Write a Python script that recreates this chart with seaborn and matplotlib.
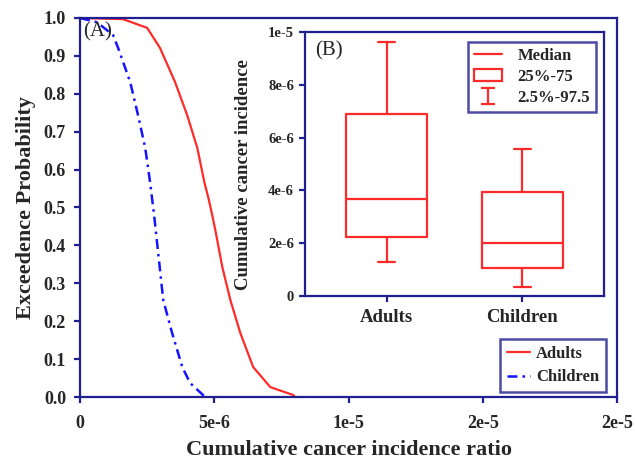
import numpy as np
import pandas as pd
import matplotlib
matplotlib.use("Agg")
import matplotlib.pyplot as plt
from matplotlib.lines import Line2D
from matplotlib.patches import Patch
import seaborn as sns

# ---------------- data ----------------
adult_x = [0, 1.6e-6, 2.5e-6, 2.98e-6, 3.54e-6, 3.99e-6, 4.37e-6, 4.63e-6, 4.79e-6,
           4.93e-6, 5.06e-6, 5.30e-6, 5.60e-6, 5.97e-6, 6.45e-6, 7.09e-6, 7.95e-6, 8.0e-6]
adult_p = [1.0, 0.997, 0.974, 0.921, 0.831, 0.744, 0.657, 0.567, 0.523,
           0.478, 0.433, 0.343, 0.256, 0.169, 0.079, 0.026, 0.005, 0.0]
child_x = [0, 0.63e-6, 1.23e-6, 1.42e-6, 1.87e-6, 2.16e-6, 2.43e-6, 2.61e-6, 2.69e-6,
           2.76e-6, 3.10e-6, 3.43e-6, 3.81e-6, 4.10e-6, 4.66e-6]
child_p = [1.0, 0.989, 0.955, 0.921, 0.831, 0.744, 0.657, 0.567, 0.520,
           0.480, 0.256, 0.169, 0.079, 0.037, 0.0]

groups = ["Adults", "Children"]
p2_5 = [1.29e-6, 0.33e-6]
p25 = [2.25e-6, 1.07e-6]
p50 = [3.66e-6, 2.0e-6]
p75 = [6.9e-6, 3.93e-6]
p97_5 = [9.62e-6, 5.58e-6]

main_xticks = [0, 5e-6, 1e-5, 1.5e-5, 2e-5]
main_xticklabels = ["0", "5e-6", "1e-5", "2e-5", "2e-5"]
main_yticks = [0.0, 0.1, 0.2, 0.3, 0.4, 0.5, 0.6, 0.7, 0.8, 0.9, 1.0]
inset_yticks = [0, 2e-6, 4e-6, 6e-6, 8e-6, 1e-5]
inset_yticklabels = ["0", "2e-6", "4e-6", "6e-6", "8e-6", "1e-5"]

# ---------------- style ----------------
sns.set_style("ticks")
plt.rcParams["font.family"] = ["Liberation Serif", "DejaVu Serif"]
NAVY = "#1f1f8f"
RED = "#ff2a2a"
BLUE = "#1414ff"

fig = plt.figure(figsize=(6.35, 4.61), dpi=100)
ax = fig.add_axes([80 / 635, 1 - 397 / 461, 537 / 635, 379 / 461])

df_a = pd.DataFrame({"x": adult_x, "p": adult_p})
df_c = pd.DataFrame({"x": child_x, "p": child_p})
sns.lineplot(data=df_a, x="x", y="p", ax=ax, color=RED, lw=1.6, estimator=None,
             label="Adults")
sns.lineplot(data=df_c, x="x", y="p", ax=ax, color=BLUE, lw=1.8, estimator=None,
             label="Children", linestyle=(0, (4, 2, 1, 2)))

ax.set_xlim(0, 2e-5)
ax.set_ylim(0, 1)
ax.set_xticks(main_xticks)
ax.set_xticklabels(main_xticklabels)
ax.set_yticks(main_yticks)
ax.set_yticklabels([f"{v:.1f}" for v in main_yticks])
for s in ax.spines.values():
    s.set_color(NAVY)
    s.set_linewidth(1.6)
ax.tick_params(direction="out", length=4, width=1.6, color=NAVY, labelsize=13)
for t in ax.get_xticklabels() + ax.get_yticklabels():
    t.set_fontweight("bold")
ax.tick_params(axis="x", pad=9)
ax.tick_params(axis="y", pad=6)
ax.set_xlabel("Cumulative cancer incidence ratio", fontsize=16, fontweight="bold",
              labelpad=6)
ax.set_ylabel("Exceedence Probability", fontsize=16, fontweight="bold", labelpad=6)
ax.text(0.006, 0.99, "(A)", transform=ax.transAxes, fontsize=15, va="top", ha="left")

leg = ax.legend(loc="lower right", bbox_to_anchor=(0.9795, 0.013), borderaxespad=0,
                frameon=True, fancybox=False, handlelength=1.4, handletextpad=0.35,
                labelspacing=0.45, borderpad=0.4,
                prop={"weight": "bold", "size": 12})
leg.get_frame().set_edgecolor(NAVY)
leg.get_frame().set_linewidth(1.8)

# ---------------- inset boxplot ----------------
axi = fig.add_axes([305 / 635, 1 - 296 / 461, 299 / 635, 264 / 461])
stats = []
for i, g in enumerate(groups):
    stats.append({"label": g, "whislo": p2_5[i], "q1": p25[i], "med": p50[i],
                  "q3": p75[i], "whishi": p97_5[i], "fliers": []})
lp = dict(color=RED, linewidth=1.6)
axi.bxp(stats, positions=[0, 1], widths=0.6, showfliers=False, capwidths=0.13,
        boxprops=lp, medianprops=lp, whiskerprops=lp, capprops=lp)
axi.set_xlim(-0.6, 1.6)
axi.set_ylim(0, 1e-5)
axi.set_xticks([0, 1])
axi.set_xticklabels(groups)
axi.set_yticks(inset_yticks)
axi.set_yticklabels(inset_yticklabels)
for s in axi.spines.values():
    s.set_color(NAVY)
    s.set_linewidth(1.6)
axi.tick_params(direction="out", length=4, width=1.6, color=NAVY)
axi.tick_params(axis="y", labelsize=10.5, pad=4)
axi.tick_params(axis="x", labelsize=13.5, pad=5)
for t in axi.get_xticklabels() + axi.get_yticklabels():
    t.set_fontweight("bold")
axi.set_ylabel("Cumulative cancer incidence", fontsize=13.5, fontweight="bold")
axi.yaxis.set_label_coords(-0.178, 0.46)
axi.text(0.035, 0.965, "(B)", transform=axi.transAxes, fontsize=15, va="top", ha="left")

h_med = Line2D([], [], color=RED, lw=1.6)
h_box = Patch(facecolor="none", edgecolor=RED, linewidth=1.6)
h_err = axi.errorbar([np.nan], [np.nan], yerr=[[1], [1]], fmt="none", ecolor=RED,
                     elinewidth=1.6, capsize=5, capthick=1.6)
leg2 = axi.legend([h_med, h_box, h_err], ["Median", "25%-75", "2.5%-97.5"],
                  loc="upper right", bbox_to_anchor=(0.973, 0.962), borderaxespad=0,
                  frameon=True, fancybox=False, handlelength=1.7, handletextpad=0.9,
                  labelspacing=0.3, borderpad=0.35,
                  prop={"weight": "bold", "size": 12})
leg2.get_frame().set_edgecolor(NAVY)
leg2.get_frame().set_linewidth(1.8)

fig.savefig("out.png", dpi=100)
